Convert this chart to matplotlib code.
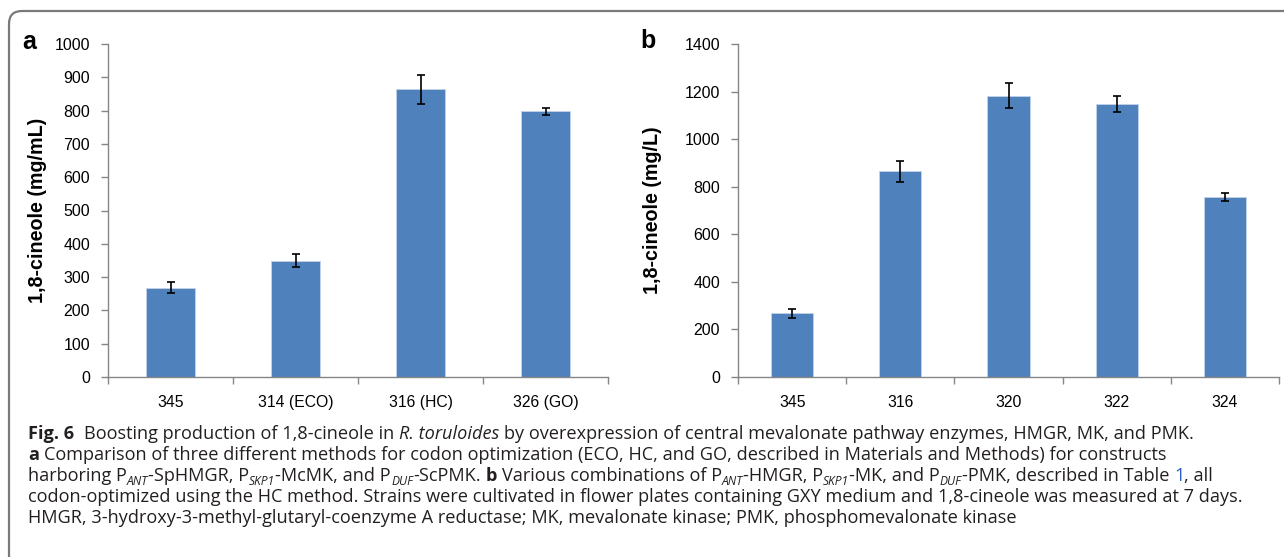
import matplotlib
matplotlib.use("Agg")
import matplotlib.pyplot as plt
from matplotlib.patches import FancyBboxPatch
from matplotlib.transforms import IdentityTransform

# ---- data ----
strains_a = ["345", "314 (ECO)", "316 (HC)", "326 (GO)"]
cineole_a = [268, 349, 864, 798]
err_a = [17, 19, 43, 10]

strains_b = ["345", "316", "320", "322", "324"]
cineole_b = [267, 864, 1182, 1149, 755]
err_b = [18, 43, 52, 33, 17]

BAR = "#4f81bd"
SPINE = "#868686"
W, H = 1284, 557

plt.rcParams["font.family"] = ["Liberation Sans", "DejaVu Sans"]

fig = plt.figure(figsize=(W / 100, H / 100), dpi=100)

# rounded frame around the whole figure
frame = FancyBboxPatch((9, -30), 1320, H - 11 + 30,
                       boxstyle="round,pad=0,rounding_size=13",
                       transform=IdentityTransform(), fill=False,
                       edgecolor="#7a7a7a", linewidth=1.6)
fig.patches.append(frame)


def px_axes(left, right, top, bottom):
    return fig.add_axes([left / W, 1 - bottom / H, (right - left) / W, (bottom - top) / H])


def bar_panel(ax, labels, vals, errs, ymax, ystep, ylabel):
    x = range(len(labels))
    ax.bar(x, vals, width=0.39, color=BAR, edgecolor="#c3d3e8", linewidth=0.6, zorder=2)
    ax.errorbar(x, vals, yerr=errs, fmt="none", ecolor="black",
                elinewidth=1.2, capsize=3.2, capthick=1.2, zorder=3)
    ax.set_xlim(-0.5, len(labels) - 0.5)
    ax.set_ylim(0, ymax)
    ax.set_yticks(range(0, ymax + 1, ystep))
    ax.set_xticks(list(x))
    ax.set_xticklabels(labels, fontsize=11.3)
    ax.set_xticks([i - 0.5 for i in range(len(labels) + 1)], minor=True)
    ax.tick_params(axis="x", which="major", length=0, pad=13)
    ax.tick_params(axis="x", which="minor", length=5, width=1, color=SPINE)
    ax.tick_params(axis="y", length=5, width=1, color=SPINE, labelsize=11.5, pad=8)
    for s in ("top", "right"):
        ax.spines[s].set_visible(False)
    for s in ("left", "bottom"):
        ax.spines[s].set_color(SPINE)
        ax.spines[s].set_linewidth(1)
    ax.set_ylabel(ylabel, fontsize=14.2, fontweight="bold")


ax_a = px_axes(108, 608, 44, 377)
bar_panel(ax_a, strains_a, cineole_a, err_a, 1000, 100, "1,8-cineole (mg/mL)")
ax_a.yaxis.set_label_coords((47 - 108) / 500, 0.5)

ax_b = px_axes(738, 1279, 44, 377)
bar_panel(ax_b, strains_b, cineole_b, err_b, 1400, 200, "1,8-cineole (mg/L)")
ax_b.yaxis.set_label_coords((662 - 738) / 541, 0.5)

fig.text(22 / W, 1 - 42 / H, "a", fontsize=18, fontweight="bold", va="center", ha="left")
fig.text(640 / W, 1 - 41 / H, "b", fontsize=18, fontweight="bold", va="center", ha="left")

# ---- caption, drawn run by run so styles can mix ----
CAP = ["Open Sans", "DejaVu Sans"]
CAP_SIZE = 13.1
CAP_COLOR = "#231f20"
renderer = fig.canvas.get_renderer()


def text_width(s, **kw):
    t = fig.text(0, 0, s, **kw)
    w = t.get_window_extent(renderer).width
    t.remove()
    return w


base_kw = dict(family=CAP, fontsize=CAP_SIZE)
space_w = text_width("x x", **base_kw) - text_width("xx", **base_kw)


def draw_line(x, y, runs):
    for s, style in runs:
        kw = dict(family=CAP, fontsize=CAP_SIZE, color=CAP_COLOR, va="baseline", ha="left")
        dy = 0
        if style == "b":
            kw["fontweight"] = "bold"
        elif style == "i":
            kw["style"] = "italic"
        elif style == "sub":
            kw["style"] = "italic"
            kw["fontsize"] = CAP_SIZE * 0.66
            dy = 4.5
        elif style == "blue":
            kw["color"] = "#2d5dc8"
        lead = len(s) - len(s.lstrip(" "))
        trail = len(s) - len(s.rstrip(" "))
        core = s.strip(" ")
        x += lead * space_w
        if core:
            t = fig.text(x / W, 1 - (y + dy) / H, core, **kw)
            x += t.get_window_extent(renderer).width
        x += trail * space_w


caption = [
    [("Fig. 6", "b"), ("  Boosting production of 1,8-cineole in ", ""), ("R. toruloides", "i"),
     (" by overexpression of central mevalonate pathway enzymes, HMGR, MK, and PMK.", "")],
    [("a", "b"), (" Comparison of three different methods for codon optimization (ECO, HC, and GO, "
                  "described in Materials and Methods) for constructs", "")],
    [("harboring P", ""), ("ANT", "sub"), ("-SpHMGR, P", ""), ("SKP1", "sub"), ("-McMK, and P", ""),
     ("DUF", "sub"), ("-ScPMK. ", ""), ("b", "b"), (" Various combinations of P", ""), ("ANT", "sub"),
     ("-HMGR, P", ""), ("SKP1", "sub"), ("-MK, and P", ""), ("DUF", "sub"),
     ("-PMK, described in Table ", ""), ("1", "blue"), (", all", "")],
    [("codon-optimized using the HC method. Strains were cultivated in flower plates containing "
      "GXY medium and 1,8-cineole was measured at 7 days.", "")],
    [("HMGR, 3-hydroxy-3-methyl-glutaryl-coenzyme A reductase; MK, mevalonate kinase; "
      "PMK, phosphomevalonate kinase", "")],
]
for i, runs in enumerate(caption):
    draw_line(28, 439 + i * 20.9, runs)

fig.savefig("out.png", dpi=100)
